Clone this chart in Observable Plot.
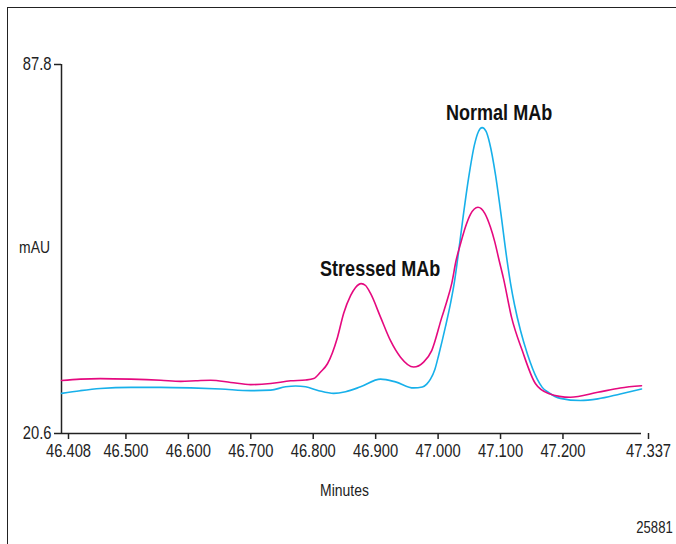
<!DOCTYPE html>
<html>
<head>
<meta charset="utf-8">
<script src="https://cdn.jsdelivr.net/npm/d3@7"></script>
<script src="https://cdn.jsdelivr.net/npm/@observablehq/plot@0.6"></script>
<style>
  html, body { margin: 0; padding: 0; background: #fff; }
  #wrap { position: relative; width: 676px; height: 544px; overflow: hidden; }
  #border { position: absolute; left: 7px; top: 7px; width: 800px; height: 800px;
            border-left: 1.6px solid #222; border-top: 1.6px solid #222; pointer-events: none; }
  #chart { position: absolute; left: 0; top: 0; }
  #chart svg [aria-label$="tick label"], #chart svg [aria-label$="tick label"] text { font-size: 18px !important; }
</style>
</head>
<body>
<div id="wrap"><div id="chart"></div><div id="border"></div></div>
<script>
// ---- data ----
const normalTime = [46.408, 46.438, 46.470, 46.519, 46.567, 46.615, 46.663, 46.711, 46.743, 46.767,
  46.783, 46.799, 46.820, 46.844, 46.863, 46.887, 46.919, 46.943, 46.972, 46.986,
  46.993, 46.999, 47.006, 47.0124, 47.0231, 47.0311, 47.0375, 47.0423, 47.0503, 47.0599,
  47.0695, 47.0759, 47.0817, 47.0881, 47.0937, 47.1033, 47.1113, 47.1217, 47.1273, 47.1337,
  47.1433, 47.1545, 47.1700, 47.178, 47.188, 47.207, 47.239, 47.267, 47.303, 47.337];
const normalMAU = [27.9, 28.4, 28.8, 29.0, 29.0, 28.9, 28.7, 28.4, 28.5, 29.1,
  29.25, 29.1, 28.4, 27.9, 28.2, 29.1, 30.5, 30.0, 28.9, 29.07,
  29.6, 30.5, 32.25, 35.0, 40.1, 44.3, 48.3, 52.2, 59.2, 67.0,
  73.2, 75.6, 76.3, 75.6, 73.5, 67.6, 61.1, 52.1, 47.9, 44.0,
  39.3, 35.0, 30.5, 29.0, 28.07, 27.0, 26.6, 26.9, 27.8, 28.7];

const stressedTime = [46.408, 46.438, 46.470, 46.519, 46.567, 46.599, 46.623, 46.647, 46.679, 46.711,
  46.743, 46.775, 46.799, 46.812, 46.823, 46.834, 46.850, 46.860, 46.871, 46.879,
  46.888, 46.895, 46.903, 46.919, 46.935, 46.951, 46.972, 46.988, 47.001, 47.017,
  47.025, 47.033, 47.040, 47.047, 47.055, 47.063, 47.075, 47.086, 47.095, 47.102,
  47.109, 47.116, 47.129, 47.146, 47.167, 47.188, 47.223, 47.267, 47.303, 47.337];
const stressedMAU = [30.25, 30.5, 30.6, 30.5, 30.3, 30.1, 30.2, 30.3, 29.9, 29.5,
  29.7, 30.2, 30.35, 30.6, 31.8, 33.3, 38.1, 42.5, 45.7, 47.2,
  47.9, 47.55, 46.1, 41.8, 37.5, 34.5, 32.7, 33.6, 35.7, 41.7,
  44.6, 47.9, 52.1, 55.1, 58.2, 60.5, 61.8, 60.7, 58.2, 55.5,
  52.1, 48.8, 41.7, 35.7, 29.7, 27.9, 27.2, 28.1, 28.9, 29.3];

const xTicks = [46.408, 46.5, 46.6, 46.7, 46.8, 46.9, 47.0, 47.1, 47.2, 47.337];
const yTicks = [20.6, 87.8];
const peakLabels = ["Normal MAb", "Stressed MAb"];
const peakTimes = [47.0817, 46.888];

// ---- build tables ----
const normal = normalTime.map((t, i) => ({t, v: normalMAU[i]}));
const stressed = stressedTime.map((t, i) => ({t, v: stressedMAU[i]}));
const lookup = [normal, stressed];
const labels = peakLabels.map((name, i) => {
  const d = lookup[i].find(p => p.t === peakTimes[i]);
  return {name, t: d.t, v: d.v};
});

const font = "'Liberation Sans', Arial, sans-serif";
const pink = "#e5097f";
const blue = "#17b0ea";

const chart = Plot.plot({
  width: 676,
  height: 544,
  marginLeft: 61,
  marginRight: 35,
  marginTop: 64,
  marginBottom: 111,
  style: {fontFamily: font, fontSize: "18px", color: "#222", background: "transparent", overflow: "visible"},
  x: {domain: [46.408, 47.337]},
  y: {domain: [20.6, 87.8]},
  marks: [
    Plot.axisX({ticks: xTicks, tickFormat: d => d.toFixed(3), tickSize: 6, tickPadding: 5, dx: 7, label: null, strokeWidth: 1.5}),
    Plot.axisY({ticks: yTicks, tickFormat: d => d.toFixed(1), tickSize: 7, tickPadding: 3, label: null, strokeWidth: 1.5}),
    Plot.ruleX([46.408], {stroke: "#222", strokeWidth: 1.5}),
    Plot.ruleY([20.6], {stroke: "#222", strokeWidth: 1.5}),
    Plot.line(normal, {x: "t", y: "v", stroke: blue, strokeWidth: 1.6, curve: "monotone-x"}),
    Plot.line(stressed, {x: "t", y: "v", stroke: pink, strokeWidth: 1.6, curve: "monotone-x"}),
    Plot.text([labels[0]], {x: "t", y: "v", text: "name", dx: 17, dy: -15, fontSize: 22, fontWeight: "bold", fill: "#111"}),
    Plot.text([labels[1]], {x: "t", y: "v", text: "name", dx: 19, dy: -15, fontSize: 22, fontWeight: "bold", fill: "#111"}),
    Plot.text(["mAU"], {frameAnchor: "left", text: d => d, dx: -27, dy: -1, textAnchor: "middle", fontSize: 17, fill: "#222"}),
    Plot.text(["Minutes"], {frameAnchor: "bottom", text: d => d, dx: -7, dy: 62, textAnchor: "middle", fontSize: 17, fill: "#222"}),
    Plot.text(["25881"], {frameAnchor: "bottom-right", text: d => d, dx: 13, dy: 99, textAnchor: "middle", fontSize: 16, fill: "#222"})
  ]
});

// condense all text horizontally (emulates a narrow typeface)
const squeeze = 0.82;
chart.querySelectorAll("text").forEach(t => {
  const x = parseFloat(t.getAttribute("x")) || 0;
  const tr = t.getAttribute("transform") || "";
  t.setAttribute("transform", `${tr} translate(${x},0) scale(${squeeze},1)`);
  if (t.hasAttribute("x")) t.setAttribute("x", 0);
});
document.getElementById("chart").appendChild(chart);
</script>
</body>
</html>
